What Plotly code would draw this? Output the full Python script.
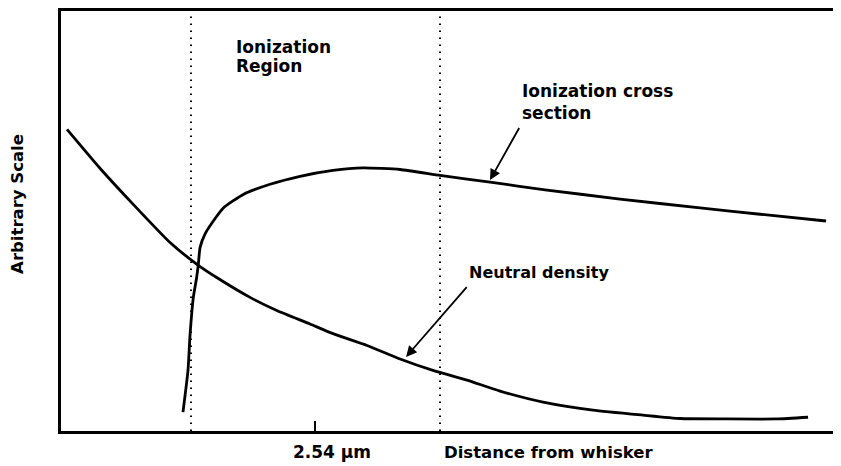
import plotly.graph_objects as go

# Neutral density (x in um, arbitrary y scale 0-10)
nd_x = [0.070, 0.398, 0.727, 1.096, 1.361, 1.561, 1.893, 2.159, 2.490, 2.719, 3.058,
        3.387, 3.715, 4.054, 4.383, 4.811, 5.309, 5.807, 6.176, 6.644, 7.142, 7.451]
nd_y = [7.17, 6.25, 5.40, 4.49, 3.98, 3.66, 3.19, 2.88, 2.56, 2.33, 2.05,
        1.73, 1.46, 1.23, 0.97, 0.71, 0.52, 0.40, 0.32, 0.31, 0.31, 0.35]

# Ionization cross section
ic_x = [1.225, 1.275, 1.295, 1.328, 1.361, 1.378, 1.395, 1.444, 1.527, 1.627, 1.826,
        2.092, 2.391, 2.719, 3.018, 3.387, 3.785, 4.283, 4.831, 5.578, 6.375, 6.973, 7.630]
ic_y = [0.47, 1.46, 2.29, 3.19, 3.66, 3.98, 4.37, 4.69, 5.00, 5.31, 5.63,
        5.87, 6.06, 6.20, 6.26, 6.22, 6.08, 5.92, 5.74, 5.52, 5.31, 5.16, 5.00]

region_bounds = [1.305, 3.785]
tick_vals = [2.54]
tick_labels = ["2.54 \u03bcm"]

FONT = "DejaVu Sans"
fig = go.Figure()
for xs, ys in [(nd_x, nd_y), (ic_x, ic_y)]:
    fig.add_trace(go.Scatter(x=xs, y=ys, mode="lines",
                             line=dict(color="black", width=2.8, shape="spline", smoothing=0.5),
                             showlegend=False, hoverinfo="skip"))

for xb in region_bounds:
    fig.add_shape(type="line", xref="x", yref="paper", x0=xb, x1=xb, y0=0, y1=1,
                  line=dict(color="black", width=2, dash="1.5px,5.5px"))

def txt(x, y, s, size=17, xanchor="left", xref="x", yref="y", angle=0):
    fig.add_annotation(x=x, y=y, xref=xref, yref=yref, text=s, showarrow=False,
                       xanchor=xanchor, yanchor="middle", textangle=angle,
                       font=dict(family=FONT, size=size, color="black", weight="bold"))

txt(1.733, 9.13, "Ionization")
txt(1.733, 8.68, "Region")
txt(4.582, 8.07, "Ionization cross")
txt(4.582, 7.55, "section")
txt(4.054, 3.79, "Neutral density", size=16)
txt(3.805, -0.050, "Distance from whisker", size=16.5, yref="paper")
txt(2.71, -0.050, tick_labels[0], size=17, xanchor="center", yref="paper")
txt(-0.055, 0.541, "Arbitrary Scale", size=16.5, xanchor="center", xref="paper",
    yref="paper", angle=-90)

for hx, hy, tx, ty in [(4.283, 5.97, 4.582, 7.24), (3.447, 1.78, 4.064, 3.47)]:
    fig.add_annotation(x=hx, y=hy, ax=tx, ay=ty, xref="x", yref="y", axref="x", ayref="y",
                       text="", showarrow=True, arrowhead=2, arrowsize=1.2, arrowwidth=1.8,
                       arrowcolor="black")

fig.update_layout(
    width=833, height=458,
    margin=dict(l=53, r=0, t=1, b=35),
    paper_bgcolor="white", plot_bgcolor="white",
    xaxis=dict(range=[0.010, 7.779], showgrid=False, zeroline=False, showline=True,
               linecolor="black", linewidth=2.5, mirror=True,
               ticks="inside", tickvals=tick_vals, ticktext=[""], ticklen=10,
               tickwidth=2, tickcolor="black"),
    yaxis=dict(range=[0.024, 9.976], showgrid=False, zeroline=False, showline=True,
               linecolor="black", linewidth=2.5, showticklabels=False, ticks=""),
)
fig.write_html("out.html")
